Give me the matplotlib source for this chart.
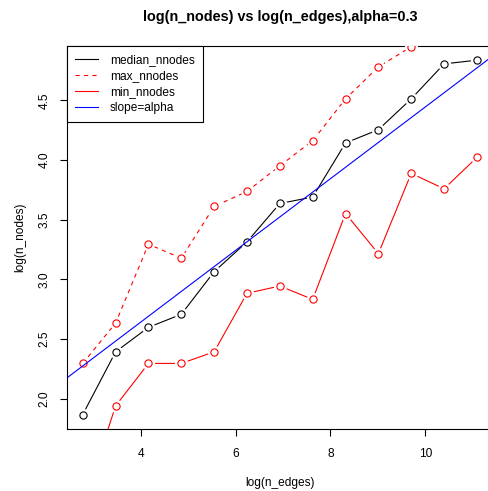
import matplotlib
matplotlib.use("Agg")
import matplotlib.pyplot as plt
from matplotlib.lines import Line2D
import numpy as np

# log2 of edge counts go from 4 to 16, x axis is natural log
k = np.arange(4, 17)
log_edges = k * np.log(2)

median_nnodes = [1.869, 2.394, 2.599, 2.708, 3.065, 3.315, 3.636,
                 3.690, 4.143, 4.254, 4.512, 4.805, 4.836]
max_nnodes = [2.297, 2.635, 3.295, 3.178, 3.611, 3.737, 3.952,
              4.162, 4.512, 4.780, 4.948, 5.130, 5.300]
min_nnodes = [1.099, 1.941, 2.297, 2.297, 2.394, 2.884, 2.945,
              2.833, 3.552, 3.216, 3.888, 3.759, 4.022]

alpha = 0.3
intercept = 1.444

plt.rcParams["font.family"] = ["Liberation Sans", "DejaVu Sans"]
plt.rcParams["font.size"] = 8.6

fig = plt.figure(figsize=(4.88, 4.91), dpi=100)
ax = fig.add_axes([0.1373, 0.1269, 0.8723, 0.7794])

xlim = (log_edges.min() - 0.04 * np.ptp(log_edges), log_edges.max() + 0.04 * np.ptp(log_edges))
ylim = (min(median_nnodes) - 0.04 * np.ptp(median_nnodes),
        max(median_nnodes) + 0.04 * np.ptp(median_nnodes))


def type_b(x, y, color, **kw):
    # R's type="b": line with a small gap round each open point
    ax.plot(x, y, color=color, lw=0.8, zorder=2, **kw)
    ax.plot(x, y, ls="none", marker="o", ms=9.5, mfc="white", mec="none", zorder=3)
    ax.plot(x, y, ls="none", marker="o", ms=5.2, mfc="none", mec=color, mew=0.8, zorder=4)


type_b(log_edges, median_nnodes, "black")
type_b(log_edges, max_nnodes, "red", dashes=(3.8, 3.8))
type_b(log_edges, min_nnodes, "red")

xx = np.array(xlim)
ax.plot(xx, intercept + alpha * xx, color="blue", lw=0.8, zorder=5)

ax.set_xlim(xlim)
ax.set_ylim(ylim)
ax.set_xticks([4, 6, 8, 10])
ax.set_yticks([2.0, 2.5, 3.0, 3.5, 4.0, 4.5])
ax.set_yticklabels(["2.0", "2.5", "3.0", "3.5", "4.0", "4.5"], rotation=90, va="center")
ax.tick_params(direction="out", length=5, width=0.8)
ax.tick_params(axis="x", pad=9)
ax.tick_params(axis="y", pad=7)
for s in ax.spines.values():
    s.set_linewidth(0.8)

ax.set_xlabel("log(n_edges)", labelpad=12)
ax.set_ylabel("log(n_nodes)", labelpad=9)
fig.text(0.5736, 0.965, "log(n_nodes) vs log(n_edges),alpha=0.3",
         ha="center", va="center", fontsize=10.4, fontweight="bold")

handles = [
    Line2D([], [], color="black", lw=0.8),
    Line2D([], [], color="red", lw=0.8, dashes=(3.8, 3.8)),
    Line2D([], [], color="red", lw=0.8),
    Line2D([], [], color="blue", lw=0.8),
]
leg = ax.legend(handles, ["median_nnodes", "max_nnodes", "min_nnodes", "slope=alpha"],
                loc="upper left", borderaxespad=0, fancybox=False, framealpha=1,
                edgecolor="black", handlelength=1.9, handletextpad=1.0,
                labelspacing=0.32, borderpad=0.7)
leg.get_frame().set_linewidth(0.8)
leg.set_zorder(10)

fig.savefig("out.png", dpi=100)
